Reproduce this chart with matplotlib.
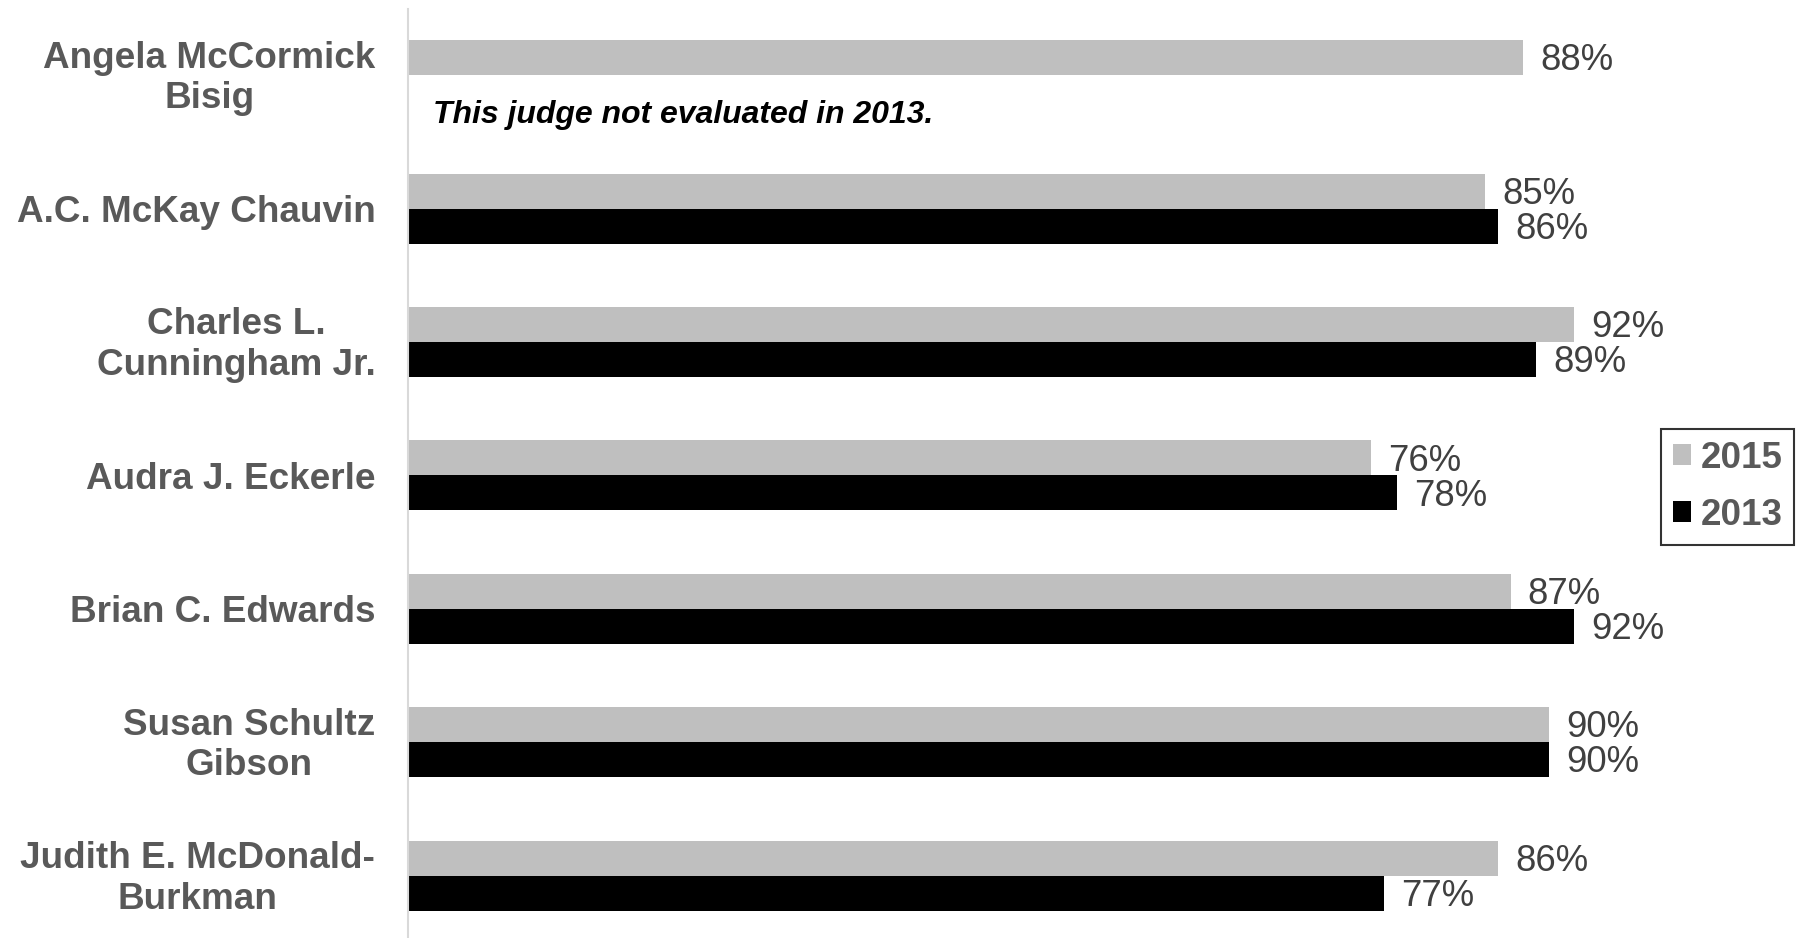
import matplotlib
matplotlib.use("Agg")
import matplotlib.pyplot as plt
import matplotlib.transforms as mtransforms
import numpy as np

judges = ["Angela McCormick\nBisig", "A.C. McKay Chauvin", "Charles L.\nCunningham Jr.",
          "Audra J. Eckerle", "Brian C. Edwards", "Susan Schultz\nGibson",
          "Judith E. McDonald-\nBurkman"]
vals_2015 = [88, 85, 92, 76, 87, 90, 86]
vals_2013 = [None, 86, 89, 78, 92, 90, 77]
note = "This judge not evaluated in 2013."

plt.rcParams['font.family'] = ['Liberation Sans', 'DejaVu Sans']

fig = plt.figure(figsize=(17.97, 9.38), dpi=100)
ax = fig.add_axes([0.2270, 0.001, 0.7054, 0.9893])

h = 0.262
dy = 0.024
y = np.arange(len(judges))
gray = "#BFBFBF"
for i, v in enumerate(vals_2015):
    ax.barh(i - h / 2, v, height=h, color=gray, edgecolor='none')
    ax.text(v + 1.35, i - h / 2 + dy, f"{v}%", va='center', ha='left', fontsize=26.3, color='#404040')
for i, v in enumerate(vals_2013):
    if v is None:
        continue
    ax.barh(i + h / 2, v, height=h, color='black', edgecolor='none')
    ax.text(v + 1.35, i + h / 2 + dy, f"{v}%", va='center', ha='left', fontsize=26.3, color='#404040')

ax.text(1.97, 0.30, note, fontsize=23, fontweight='bold', fontstyle='italic', color='black',
        va='center', ha='left')

ax.set_xlim(0, 100)
ax.set_ylim(6.46, -0.495)
ax.set_yticks(y)
ax.set_yticklabels(judges, fontsize=26.6, fontweight='bold', color='#595959',
                   multialignment='center', linespacing=1.2)
ax.tick_params(axis='y', length=0, pad=23.5)
ax.set_xticks([])
for s in ['top', 'right', 'bottom']:
    ax.spines[s].set_visible(False)
ax.spines['left'].set_color('#D9D9D9')
ax.spines['left'].set_linewidth(1.5)

shift = mtransforms.ScaledTranslation(0, 3.5 / 100, fig.dpi_scale_trans)
for lab in ax.get_yticklabels():
    if "\n" in lab.get_text():
        lab.set_transform(lab.get_transform() + shift)

from matplotlib.patches import Patch
handles = [Patch(facecolor=gray, edgecolor='none', label='2015'),
           Patch(facecolor='black', edgecolor='none', label='2013')]
leg = fig.legend(handles=handles, loc='upper left', bbox_to_anchor=(0.9243, 0.5426),
                 frameon=True, fancybox=False, prop={'size': 26.5, 'weight': 'bold'},
                 handlelength=0.5, handleheight=0.5, handletextpad=0.25,
                 borderpad=0.32, labelspacing=0.6, borderaxespad=0)
leg.get_frame().set_edgecolor('black')
leg.get_frame().set_linewidth(1.5)
for t in leg.get_texts():
    t.set_color('#595959')

fig.savefig("out.png", dpi=100)
